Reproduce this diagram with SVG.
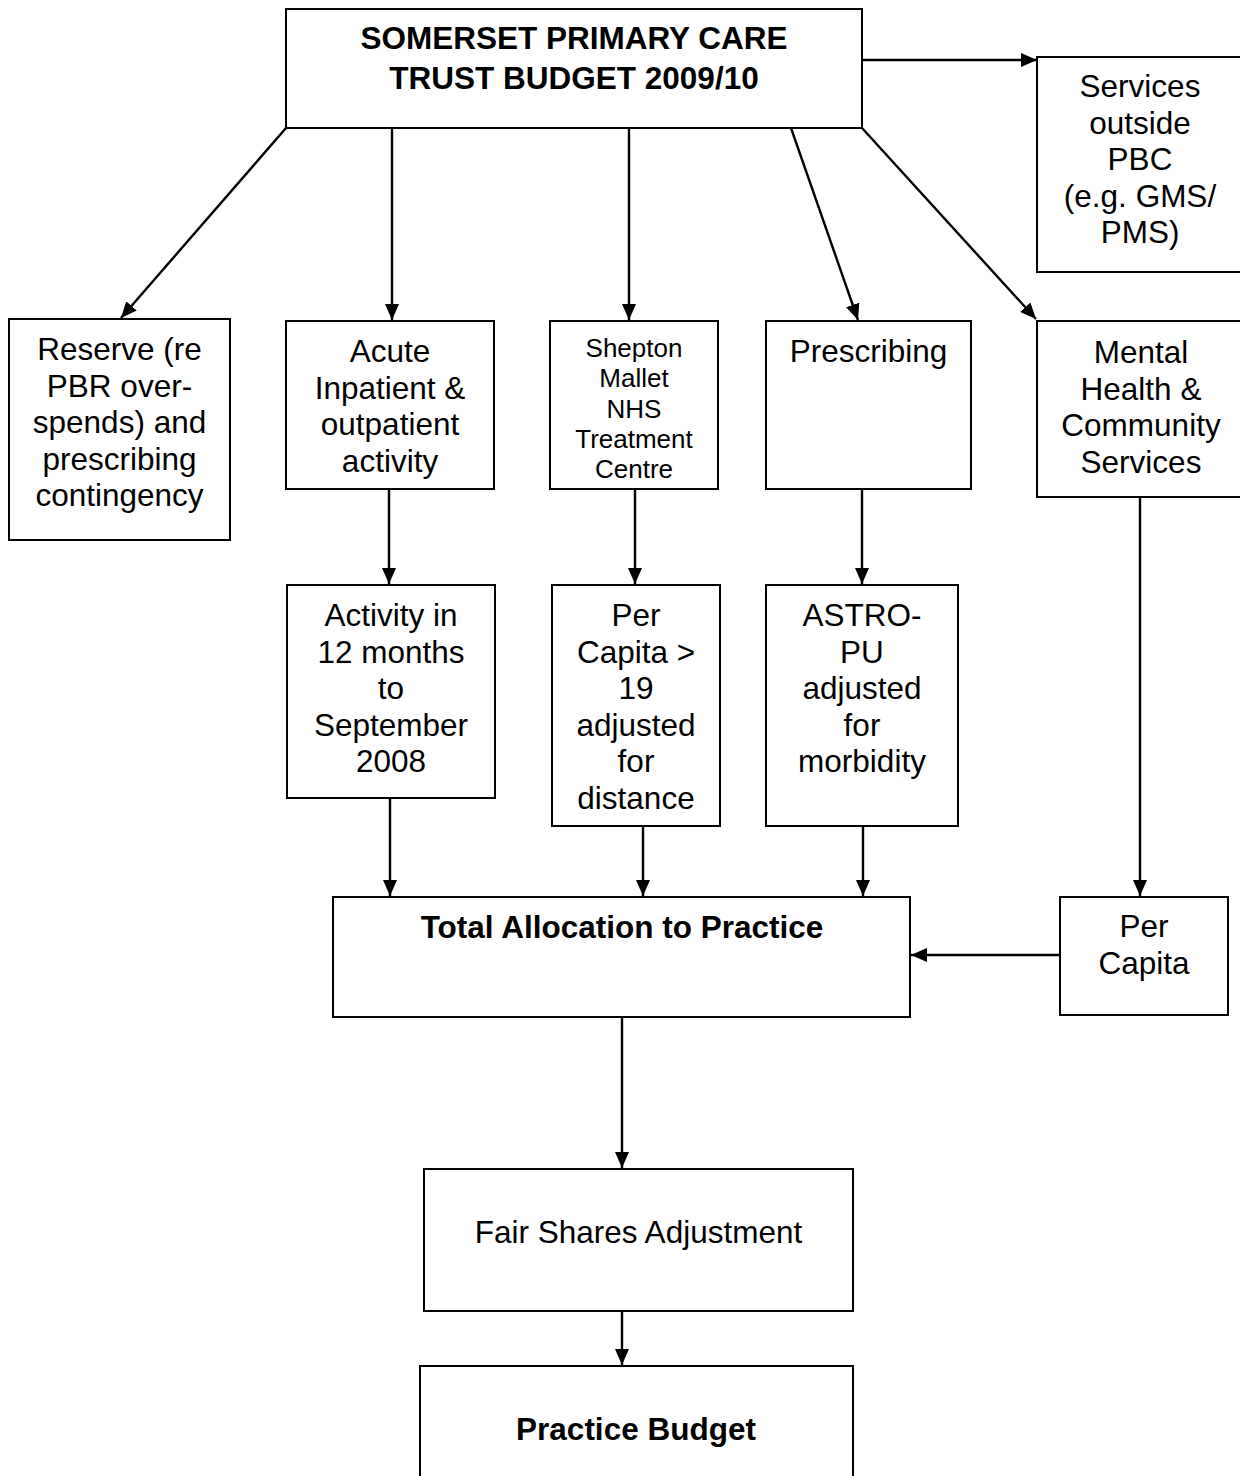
<svg xmlns="http://www.w3.org/2000/svg" width="1240" height="1476" viewBox="0 0 1240 1476">
<style>
.box{fill:#fff;stroke:#000;stroke-width:2}
.t{font-family:"Liberation Sans",Arial,sans-serif;font-size:31.5px;fill:#000;text-anchor:middle}
.s{font-size:26px}
.b{font-weight:bold}
.c line{stroke:#000;stroke-width:2.4;marker-end:url(#ah)}
</style>
<defs>
<marker id="ah" markerUnits="userSpaceOnUse" viewBox="0 0 16 14" markerWidth="16" markerHeight="14" refX="16" refY="7" orient="auto">
<path d="M0,0 L16,7 L0,14 z" fill="#000"/>
</marker>
</defs>
<rect width="1240" height="1476" fill="#fff"/>
<g id="top">
<rect class="box" x="286" y="9" width="576" height="119"/>
<text class="t b" x="574" y="49">SOMERSET PRIMARY CARE</text>
<text class="t b" x="574" y="89">TRUST BUDGET 2009/10</text>
</g>
<g id="services">
<rect class="box" x="1037" y="57" width="210" height="215"/>
<text class="t" x="1140" y="97">Services</text>
<text class="t" x="1140" y="134">outside</text>
<text class="t" x="1140" y="170">PBC</text>
<text class="t" x="1140" y="207">(e.g. GMS/</text>
<text class="t" x="1140" y="243">PMS)</text>
</g>
<g id="reserve">
<rect class="box" x="9" y="319" width="221" height="221"/>
<text class="t" x="119.5" y="360">Reserve (re</text>
<text class="t" x="119.5" y="397">PBR over-</text>
<text class="t" x="119.5" y="433">spends) and</text>
<text class="t" x="119.5" y="470">prescribing</text>
<text class="t" x="119.5" y="506">contingency</text>
</g>
<g id="acute">
<rect class="box" x="286" y="321" width="208" height="168"/>
<text class="t" x="390" y="362">Acute</text>
<text class="t" x="390" y="398.5">Inpatient &amp;</text>
<text class="t" x="390" y="435">outpatient</text>
<text class="t" x="390" y="471.5">activity</text>
</g>
<g id="shepton">
<rect class="box" x="550" y="321" width="168" height="168"/>
<text class="t s" x="634" y="357">Shepton</text>
<text class="t s" x="634" y="387">Mallet</text>
<text class="t s" x="634" y="418">NHS</text>
<text class="t s" x="634" y="448">Treatment</text>
<text class="t s" x="634" y="478">Centre</text>
</g>
<g id="prescribing">
<rect class="box" x="766" y="321" width="205" height="168"/>
<text class="t" x="868.5" y="362">Prescribing</text>
</g>
<g id="mental">
<rect class="box" x="1037" y="321" width="210" height="176"/>
<text class="t" x="1141" y="363">Mental</text>
<text class="t" x="1141" y="399.5">Health &amp;</text>
<text class="t" x="1141" y="436">Community</text>
<text class="t" x="1141" y="472.5">Services</text>
</g>
<g id="activity">
<rect class="box" x="287" y="585" width="208" height="213"/>
<text class="t" x="391" y="626">Activity in</text>
<text class="t" x="391" y="662.5">12 months</text>
<text class="t" x="391" y="699">to</text>
<text class="t" x="391" y="735.5">September</text>
<text class="t" x="391" y="772">2008</text>
</g>
<g id="percapita19">
<rect class="box" x="552" y="585" width="168" height="241"/>
<text class="t" x="636" y="626">Per</text>
<text class="t" x="636" y="662.5">Capita &gt;</text>
<text class="t" x="636" y="699">19</text>
<text class="t" x="636" y="735.5">adjusted</text>
<text class="t" x="636" y="772">for</text>
<text class="t" x="636" y="808.5">distance</text>
</g>
<g id="astro">
<rect class="box" x="766" y="585" width="192" height="241"/>
<text class="t" x="862" y="626">ASTRO-</text>
<text class="t" x="862" y="662.5">PU</text>
<text class="t" x="862" y="699">adjusted</text>
<text class="t" x="862" y="735.5">for</text>
<text class="t" x="862" y="772">morbidity</text>
</g>
<g id="total">
<rect class="box" x="333" y="897" width="577" height="120"/>
<text class="t b" x="622" y="938">Total Allocation to Practice</text>
</g>
<g id="percapita">
<rect class="box" x="1060" y="897" width="168" height="118"/>
<text class="t" x="1144" y="937">Per</text>
<text class="t" x="1144" y="974">Capita</text>
</g>
<g id="fairshares">
<rect class="box" x="424" y="1169" width="429" height="142"/>
<text class="t" x="638.5" y="1243">Fair Shares Adjustment</text>
</g>
<g id="practicebudget">
<rect class="box" x="420" y="1366" width="433" height="120"/>
<text class="t b" x="636" y="1440">Practice Budget</text>
</g>
<g id="connectors" class="c">
<line x1="862" y1="60" x2="1037" y2="60"/>
<line x1="286" y1="128" x2="121" y2="318"/>
<line x1="392" y1="128" x2="392" y2="320"/>
<line x1="629" y1="128" x2="629" y2="320"/>
<line x1="791" y1="128" x2="858" y2="320"/>
<line x1="862" y1="128" x2="1036" y2="319"/>
<line x1="389" y1="489" x2="389" y2="584"/>
<line x1="635" y1="489" x2="635" y2="584"/>
<line x1="862" y1="489" x2="862" y2="584"/>
<line x1="1140" y1="497" x2="1140" y2="896"/>
<line x1="390" y1="798" x2="390" y2="896"/>
<line x1="643" y1="826" x2="643" y2="896"/>
<line x1="863" y1="826" x2="863" y2="896"/>
<line x1="1060" y1="955" x2="911" y2="955"/>
<line x1="622" y1="1017" x2="622" y2="1168"/>
<line x1="622" y1="1311" x2="622" y2="1365"/>
</g>
</svg>
